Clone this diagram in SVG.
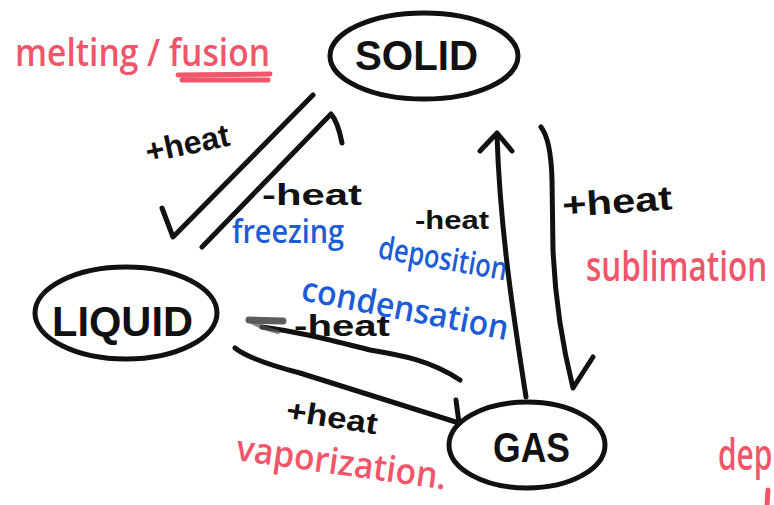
<svg xmlns="http://www.w3.org/2000/svg" width="774" height="505" viewBox="0 0 774 505">
<style>
.node{fill:none;stroke:#111;stroke-width:5;stroke-linecap:round;stroke-linejoin:round}
.nlab{font-family:"Liberation Sans",Arial,sans-serif;font-weight:bold;fill:#111}
.conn{fill:none;stroke:#111;stroke-width:5;stroke-linecap:round;stroke-linejoin:round}
.heat{font-family:"Liberation Sans",Arial,sans-serif;font-weight:bold;fill:#111}
.red{font-family:"Open Sans","Liberation Sans",sans-serif;font-weight:600;fill:#F0566A}
.blue{font-family:"Open Sans","Liberation Sans",sans-serif;font-weight:600;fill:#1E5CD6}
</style>
<rect width="774" height="505" fill="#fff"/>
<g id="solid">
<ellipse class="node" cx="424" cy="56" rx="94" ry="43"/>
<text class="nlab" x="355" y="70" font-size="42" textLength="123" lengthAdjust="spacingAndGlyphs">SOLID</text>
</g>
<g id="liquid">
<ellipse class="node" cx="126" cy="313" rx="91" ry="46"/>
<text class="nlab" x="52" y="336" font-size="42" textLength="141" lengthAdjust="spacingAndGlyphs">LIQUID</text>
</g>
<g id="gas">
<ellipse class="node" cx="527" cy="445" rx="78" ry="43"/>
<text class="nlab" x="493" y="462" font-size="42" textLength="77" lengthAdjust="spacingAndGlyphs">GAS</text>
</g>
<g id="connectors">
<path class="conn" d="M162,208 L173,237 L313,95"/>
<path class="conn" d="M202,247 L331,114 Q338,122 342,143"/>
<path class="conn" d="M526,397 C514,320 500,230 497,135"/>
<path class="conn" d="M480,151 L497,133 L512,151"/>
<path class="conn" d="M541,127 Q551,140 552,180 L553,250 Q556,320 573,388 L593,357"/>
<path class="conn" d="M460,380 C430,360 400,355 370,350 C330,340 300,332 262,327"/>
<path d="M249,320 L283,321" stroke="#333" stroke-width="7" stroke-linecap="round" opacity="0.8" fill="none"/>
<path d="M252,322 Q262,328 278,332" stroke="#555" stroke-width="4" stroke-linecap="round" opacity="0.7" fill="none"/>
<path class="conn" d="M235,348 Q250,360 300,373 L459,423"/>
<path class="conn" d="M456,400 L459,423"/>
</g>
<g id="labels">
<text class="heat" x="148" y="163" font-size="32" textLength="85" lengthAdjust="spacingAndGlyphs" transform="rotate(-12 148 163)">+heat</text>
<text class="heat" x="262" y="205" font-size="30" textLength="100" lengthAdjust="spacingAndGlyphs">-heat</text>
<text class="heat" x="415" y="229" font-size="26" textLength="74" lengthAdjust="spacingAndGlyphs">-heat</text>
<text class="heat" x="563" y="217" font-size="34" textLength="110" lengthAdjust="spacingAndGlyphs" transform="rotate(-4 563 217)">+heat</text>
<text class="heat" x="294" y="336" font-size="30" textLength="96" lengthAdjust="spacingAndGlyphs" fill="#222">-heat</text>
<text class="heat" x="285" y="420" font-size="30" textLength="92" lengthAdjust="spacingAndGlyphs" transform="rotate(9 285 420)">+heat</text>
<text class="red" x="15" y="66" font-size="38" textLength="255" lengthAdjust="spacingAndGlyphs">melting / fusion</text>
<path d="M178,75 L270,74 M182,80 L268,80" stroke="#F0566A" stroke-width="5" stroke-linecap="round" fill="none"/>
<text class="red" font-size="42" transform="translate(586 281) scale(0.75 1)">sublimation</text>
<text class="red" font-size="44" transform="translate(718 470) scale(0.68 1)">dep</text>
<path d="M768,490 L767,505" stroke="#F0566A" stroke-width="5" stroke-linecap="round" fill="none"/>
<text class="red" x="235" y="460" font-size="36" textLength="212" lengthAdjust="spacingAndGlyphs" transform="rotate(8 235 460)">vaporization.</text>
<text class="blue" x="232" y="243" font-size="32" textLength="112" lengthAdjust="spacingAndGlyphs">freezing</text>
<text class="blue" x="377" y="258" font-size="32" textLength="130" lengthAdjust="spacingAndGlyphs" transform="rotate(10 377 258)">deposition</text>
<text class="blue" x="300" y="300" font-size="34" textLength="210" lengthAdjust="spacingAndGlyphs" transform="rotate(11 300 300)">condensation</text>
</g>
</svg>
